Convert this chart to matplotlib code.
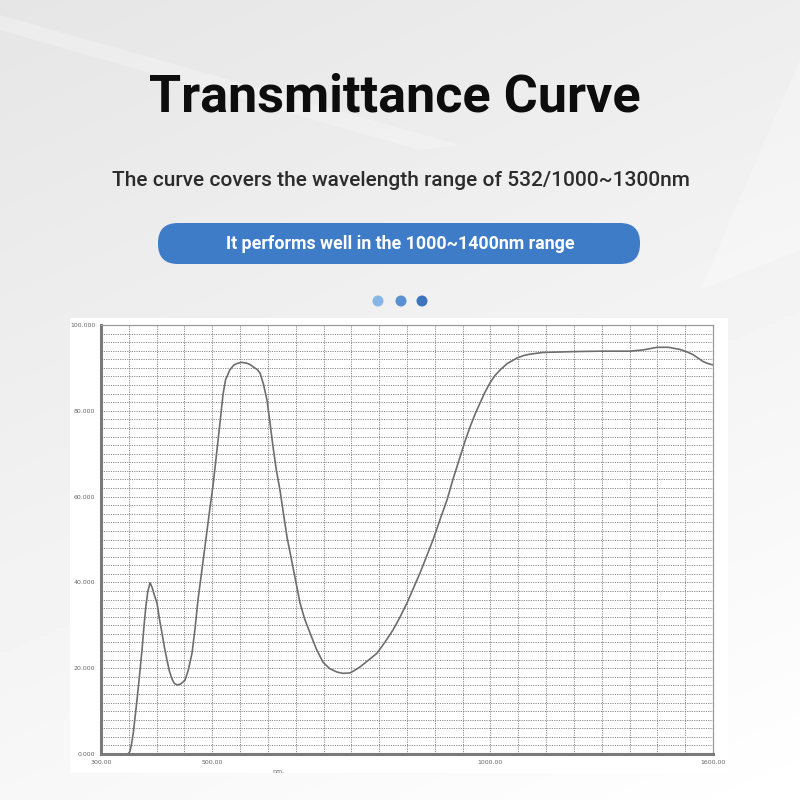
import numpy as np
import matplotlib
matplotlib.use("Agg")
import matplotlib.pyplot as plt
from matplotlib.patches import FancyBboxPatch, Rectangle, Circle, Polygon

# transmittance readings (wavelength nm, %T)
wavelength = [300, 348.5, 352.0, 355.0, 358.0, 361.0, 364.7, 369.0, 373.7, 377.0,
              380.5, 384.0, 388.1, 392.0, 396.0, 400.7, 405.0, 409.6, 414.0, 418.6,
              423.0, 427.6, 431.5, 436.6, 443.0, 451.0, 457.0, 463.6, 469.0, 474.3,
              482.0, 490.5, 496.0, 501.3, 508.5, 513.9, 519.3, 524.0, 531.9, 539.0,
              546.2, 552.0, 557.0, 562.0, 567.8, 575.0, 581.0, 585.8, 592.0, 598.4,
              603.5, 609.2, 615.0, 621.7, 628.0, 634.3, 645.1, 657.7, 666.0, 675.7,
              687.0, 699.0, 711.0, 724.2, 735.0, 747.6, 756.0, 765.5, 780.0, 796.1,
              810.0, 824.8, 837.0, 850.0, 861.0, 873.4, 885.0, 896.7, 909.0, 921.9,
              933.0, 945.3, 954.0, 963.2, 972.0, 981.2, 990.0, 999.2, 1008.0, 1017.2,
              1030.0, 1047.7, 1060.0, 1071.1, 1094.5, 1150.0, 1196.9, 1250.8, 1275.0,
              1299.3, 1320.0, 1340.7, 1352.0, 1364.1, 1373.0, 1382.0, 1391.0, 1400]
transmittance = [0.0, 0.0, 0.6, 2.4, 4.9, 8.3, 12.6, 18.0, 24.2, 29.4,
                 34.2, 37.8, 39.9, 38.8, 37.0, 35.2, 31.5, 28.2, 24.9, 21.9,
                 19.3, 17.5, 16.5, 16.1, 16.3, 17.2, 19.6, 23.5, 29.2, 35.9,
                 43.5, 52.0, 57.5, 62.5, 70.9, 77.2, 83.8, 87.3, 89.6, 90.7,
                 91.1, 91.3, 91.2, 91.1, 90.8, 90.1, 89.6, 88.8, 86.2, 82.5,
                 77.5, 71.6, 66.3, 61.5, 56.0, 50.6, 43.5, 35.2, 31.5, 28.2,
                 24.5, 21.4, 19.9, 19.1, 18.8, 18.9, 19.5, 20.3, 21.8, 23.5,
                 26.0, 28.9, 31.8, 35.2, 38.5, 42.2, 46.0, 49.9, 54.5, 59.2,
                 64.2, 69.2, 72.8, 76.2, 79.1, 81.8, 84.3, 86.5, 88.2, 89.5,
                 91.0, 92.3, 92.9, 93.2, 93.6, 93.8, 93.9, 93.9, 94.2,
                 94.8, 94.8, 94.3, 93.8, 93.1, 92.3, 91.5, 91.0, 90.7]

x_ticks = [300, 500, 1000, 1400]
x_tick_labels = ["300.00", "500.00", "1000.00", "1600.00"]
y_ticks = [0, 20, 40, 60, 80, 100]
y_tick_labels = ["0.000", "20.000", "40.000", "60.000", "80.000", "100.000"]

title = "Transmittance Curve"
subtitle = "The curve covers the wavelength range of 532/1000~1300nm"
banner = "It performs well in the 1000~1400nm range"

fig = plt.figure(figsize=(8, 8), dpi=100)

# background with soft gradient
bg = fig.add_axes([0, 0, 1, 1])
bg.set_xlim(0, 800)
bg.set_ylim(800, 0)
bg.axis("off")
yy, xx = np.mgrid[0:800:4, 0:800:4]
grad = 0.90 + 0.07 * (yy / 800) + 0.03 * (xx / 800)
bg.imshow(grad, cmap="gray", vmin=0, vmax=1, extent=[0, 800, 800, 0], aspect="auto")
bg.add_patch(Polygon([[0, 15], [0, 30], [420, 150], [460, 145]], closed=True,
                     color="white", alpha=0.25, lw=0))
bg.add_patch(Polygon([[800, 60], [800, 250], [700, 290]], closed=True,
                     color="white", alpha=0.25, lw=0))

bg.text(395, 97, title, ha="center", va="center", fontsize=37.5,
        fontweight="bold", family="Roboto", color="#0d0d0d")
bg.text(401, 180, subtitle, ha="center", va="center", fontsize=15,
        fontweight="medium", family="Roboto", color="#2b2b2b")

bg.add_patch(FancyBboxPatch((158, 223), 482, 41, boxstyle="round,pad=0,rounding_size=20",
                            fc="#3f7cc7", ec="none"))
bg.text(400, 244, banner, ha="center", va="center", fontsize=12.8,
        fontweight="bold", family="Roboto", color="white")

for cx, col in zip([378, 401, 422], ["#86b6e6", "#5a8fd2", "#3d72bd"]):
    bg.add_patch(Circle((cx, 301), 5.5, color=col, lw=0))

bg.add_patch(Rectangle((70, 318), 658, 455, fc="white", ec="none"))

# chart
ax = fig.add_axes([101 / 800, 46 / 800, 612 / 800, 429 / 800])
ax.plot(wavelength, transmittance, color="#6e6e6e", lw=1.2)
ax.set_xlim(300, 1400)
ax.set_ylim(0, 100)
ax.set_xticks(x_ticks)
ax.set_xticklabels(x_tick_labels)
ax.set_yticks(y_ticks)
ax.set_yticklabels(y_tick_labels)
ax.tick_params(length=0, labelsize=4.5, colors="#666666", pad=4)
ax.set_xticks(np.arange(300, 1401, 50), minor=True)
ax.set_yticks(np.arange(0, 101, 2), minor=True)
ax.tick_params(which="minor", length=0)
ax.grid(which="minor", color="#8a8a8a", ls=(0, (1.2, 1.2)), lw=0.7)
ax.grid(which="major", color="#8a8a8a", ls=(0, (1.2, 1.2)), lw=0.7)
ax.set_axisbelow(True)
for side in ["left", "bottom"]:
    ax.spines[side].set_color("#7a7a7a")
    ax.spines[side].set_linewidth(2.2)
for side in ["top", "right"]:
    ax.spines[side].set_color("#9a9a9a")
    ax.spines[side].set_linewidth(0.9)
ax.text(0.29, -0.035, "nm.", transform=ax.transAxes, fontsize=4.5,
        color="#666666", ha="center", va="top")

fig.savefig("out.png", dpi=100)
